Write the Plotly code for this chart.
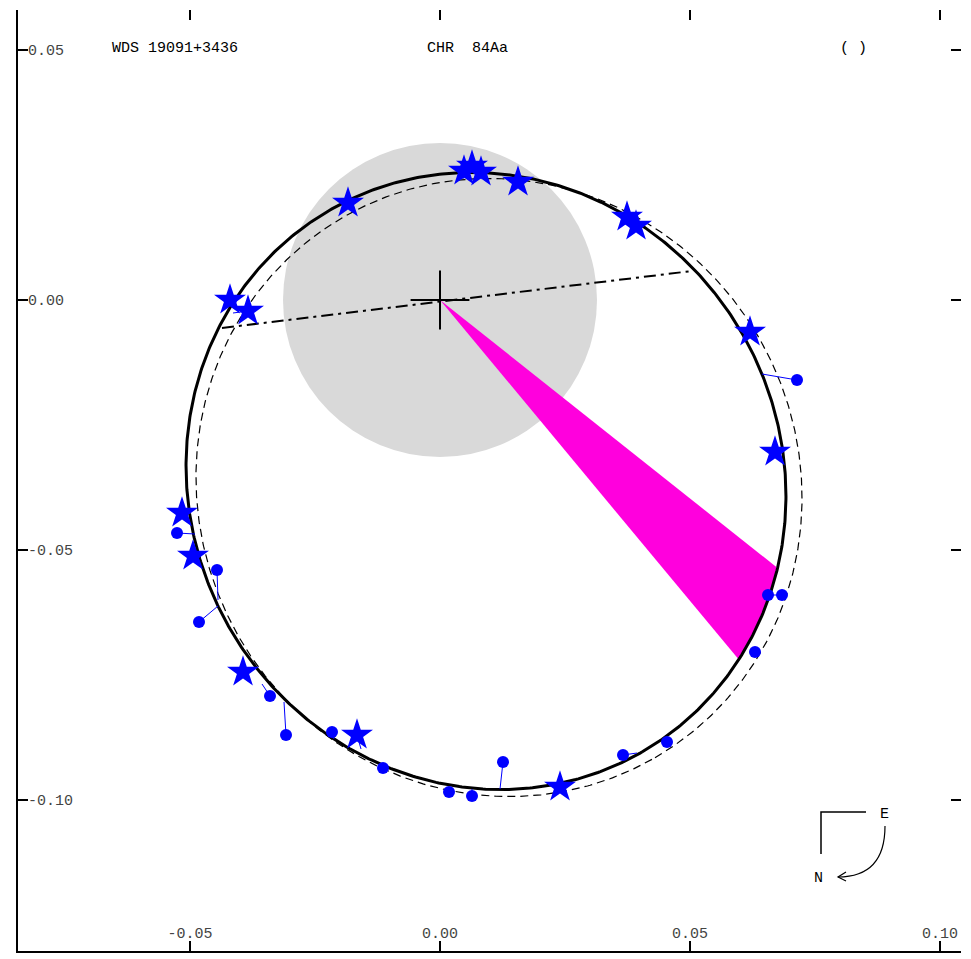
import numpy as np
import plotly.graph_objects as go

# ---------------- data (arcsec) ----------------
# observed positions plotted as stars, and their predicted positions on the orbit
star_x = [-0.0420, -0.0384, 0.0048, 0.0064, 0.0082, 0.0156, -0.0184, 0.0374, 0.0392,
          0.0620, 0.0670, -0.0516, -0.0494, -0.0394, -0.0166, 0.0240]
star_y = [0.0000, -0.0022, 0.0258, 0.0268, 0.0256, 0.0236, 0.0194, 0.0166, 0.0148,
          -0.0064, -0.0304, -0.0426, -0.0512, -0.0744, -0.0870, -0.0974]
star_pred_x = [-0.0406, -0.0414, 0.0050, 0.0064, 0.0084, 0.0156, -0.0178, 0.0382, 0.0396,
               0.0616, 0.0682, -0.0502, -0.0480, -0.0372, -0.0158, 0.0240]
star_pred_y = [-0.0004, -0.0026, 0.0254, 0.0256, 0.0256, 0.0246, 0.0198, 0.0162, 0.0150,
               -0.0066, -0.0316, -0.0426, -0.0512, -0.0738, -0.0898, -0.0966]

# observed positions plotted as dots, and their predicted positions on the orbit
dot_x = [0.0714, 0.0656, 0.0684, 0.0630, -0.0526, -0.0446, -0.0482, -0.0340, -0.0308,
         -0.0216, -0.0114, 0.0018, 0.0064, 0.0126, 0.0366, 0.0454]
dot_y = [-0.0160, -0.0590, -0.0590, -0.0704, -0.0466, -0.0540, -0.0644, -0.0792, -0.0870,
         -0.0864, -0.0936, -0.0984, -0.0992, -0.0924, -0.0910, -0.0884]
dot_pred_x = [0.0644, 0.0662, 0.0664, 0.0622, -0.0490, -0.0444, -0.0444, -0.0356, -0.0312,
              -0.0212, -0.0112, 0.0020, 0.0064, 0.0120, 0.0394, 0.0454]
dot_pred_y = [-0.0148, -0.0592, -0.0590, -0.0702, -0.0468, -0.0600, -0.0612, -0.0768, -0.0804,
              -0.0878, -0.0930, -0.0978, -0.0978, -0.0978, -0.0906, -0.0882]

# apparent orbit ellipses: centre x, centre y, semi-axis a, semi-axis b, tilt (deg)
orbit_new = [0.0092, -0.0362, 0.06254, 0.05912, -60.0]
orbit_old = [0.0118, -0.0375, 0.0624, 0.0600, -60.0]

# line of nodes end points
node_x = [-0.0436, 0.0504]
node_y = [-0.0056, 0.0058]

# wedge along the orbit (orbit parameter bounds, deg)
wedge_t = [26.0, 45.0]

gray_radius = 0.0314

x_ticks = [-0.05, 0.00, 0.05, 0.10]
x_tick_text = ["-0.05", "0.00", "0.05", "0.10"]
y_ticks = [0.05, 0.00, -0.05, -0.10]
y_tick_text = ["0.05", "0.00", "-0.05", "-0.10"]

title_left = "WDS 19091+3436"
title_mid = "CHR\u00a0\u00a084Aa"
title_right = "(\u00a0)"

# ---------------- helpers ----------------
def ellipse(params, t_deg):
    cx, cy, a, b, th = params
    t = np.radians(t_deg)
    th = np.radians(th)
    x = cx + a * np.cos(t) * np.cos(th) - b * np.sin(t) * np.sin(th)
    y = cy + a * np.cos(t) * np.sin(th) + b * np.sin(t) * np.cos(th)
    return x, y

W, H = 971, 959
ML, MR, MT, MB = 18, 10, 10, 8
PW, PH = W - ML - MR, H - MT - MB
X0PIX, Y0PIX, SCALE = 440, 300, 5000.0
x_range = [(ML - X0PIX) / SCALE, (W - MR - X0PIX) / SCALE]
y_range = [(Y0PIX - (H - MB)) / SCALE, (Y0PIX - MT) / SCALE]

def px(p):
    return (p - ML) / PW

def py(p):
    return (H - MB - p) / PH

BLUE = "#0000ff"
FONT = "Liberation Mono"

fig = go.Figure()

# wedge
tw = np.linspace(wedge_t[0], wedge_t[1], 40)
wx, wy = ellipse(orbit_new, tw)
fig.add_trace(go.Scatter(x=[0.0] + list(wx) + [0.0], y=[0.0] + list(wy) + [0.0],
                         fill="toself", fillcolor="#ff00dd", mode="lines",
                         line=dict(width=0, color="#ff00dd"), hoverinfo="skip"))

# orbits
tt = np.linspace(0, 360, 721)
ox, oy = ellipse(orbit_old, tt)
fig.add_trace(go.Scatter(x=ox, y=oy, mode="lines",
                         line=dict(color="black", width=1.2, dash="8px,5px"), hoverinfo="skip"))
nx, ny = ellipse(orbit_new, tt)
fig.add_trace(go.Scatter(x=nx, y=ny, mode="lines",
                         line=dict(color="black", width=3), hoverinfo="skip"))

# line of nodes
fig.add_trace(go.Scatter(x=node_x, y=node_y, mode="lines",
                         line=dict(color="black", width=2, dash="12px,5px,3px,5px"),
                         hoverinfo="skip"))

# O-C lines
lx, ly = [], []
for a, b, c, d in zip(star_x + dot_x, star_y + dot_y,
                      star_pred_x + dot_pred_x, star_pred_y + dot_pred_y):
    lx += [a, c, None]
    ly += [b, d, None]
fig.add_trace(go.Scatter(x=lx, y=ly, mode="lines", line=dict(color=BLUE, width=1),
                         hoverinfo="skip"))

# markers
fig.add_trace(go.Scatter(x=dot_x, y=dot_y, mode="markers",
                         marker=dict(symbol="circle", size=12, color=BLUE, line=dict(width=0))))
fig.add_trace(go.Scatter(x=star_x, y=star_y, mode="markers",
                         marker=dict(symbol="star", size=24, color=BLUE, line=dict(width=0))))

# primary cross
fig.add_trace(go.Scatter(x=[0.0], y=[0.0], mode="markers",
                         marker=dict(symbol="cross-thin", size=42,
                                     line=dict(width=2, color="black")), hoverinfo="skip"))

# dummy trace for mirrored tick axes
fig.add_trace(go.Scatter(x=[0.0], y=[0.0], xaxis="x2", yaxis="y2", mode="markers",
                         marker=dict(opacity=0), hoverinfo="skip"))

# gray disc
fig.add_shape(type="circle", xref="x", yref="y", x0=-gray_radius, x1=gray_radius,
              y0=-gray_radius, y1=gray_radius, fillcolor="#d9d9d9",
              line=dict(width=0), layer="below")

# compass
fig.add_shape(type="path", xref="paper", yref="paper",
              path=f"M {px(866)},{py(812)} L {px(821)},{py(812)} L {px(821)},{py(854)}",
              line=dict(color="black", width=1.5))
fig.add_shape(type="path", xref="paper", yref="paper",
              path=(f"M {px(885)},{py(826)} C {px(885)},{py(866)} {px(864)},{py(877)} "
                    f"{px(838)},{py(877)}"),
              line=dict(color="black", width=1.2))
fig.add_shape(type="path", xref="paper", yref="paper",
              path=f"M {px(846)},{py(872)} L {px(838)},{py(877)} L {px(846)},{py(881)}",
              line=dict(color="black", width=1.2))
fig.add_annotation(x=px(884), y=py(814), xref="paper", yref="paper", text="E",
                   xanchor="center", yanchor="middle",
                   showarrow=False, font=dict(family=FONT, size=15, color="black"))
fig.add_annotation(x=px(818), y=py(878), xref="paper", yref="paper", text="N",
                   xanchor="center", yanchor="middle",
                   showarrow=False, font=dict(family=FONT, size=15, color="black"))

# header texts
for txt, xp in [(title_left, 110), (title_mid, 425), (title_right, 838)]:
    fig.add_annotation(x=px(xp), y=py(48), xref="paper", yref="paper", text=txt,
                       xanchor="left", yanchor="middle", showarrow=False,
                       font=dict(family=FONT, size=15, color="black"))

axis_common = dict(showgrid=False, zeroline=False, ticks="inside", ticklen=10,
                   tickwidth=1.5, tickcolor="black")
fig.update_layout(
    width=W, height=H, autosize=False,
    margin=dict(l=ML, r=MR, t=MT, b=MB, pad=0),
    paper_bgcolor="white", plot_bgcolor="white", showlegend=False,
    font=dict(family=FONT, size=15, color="black"),
    xaxis=dict(range=x_range, tickvals=x_ticks, ticktext=x_tick_text,
               ticklabelposition="inside", showline=True, linecolor="black", linewidth=2,
               **axis_common),
    yaxis=dict(range=y_range, tickvals=y_ticks, ticktext=y_tick_text,
               ticklabelposition="inside", showline=True, linecolor="black", linewidth=2,
               **axis_common),
    xaxis2=dict(range=x_range, overlaying="x", side="top", matches="x", tickvals=x_ticks,
                showticklabels=False, showline=False, **axis_common),
    yaxis2=dict(range=y_range, overlaying="y", side="right", matches="y", tickvals=y_ticks,
                showticklabels=False, showline=False, **axis_common),
)

fig.write_html("out.html")
